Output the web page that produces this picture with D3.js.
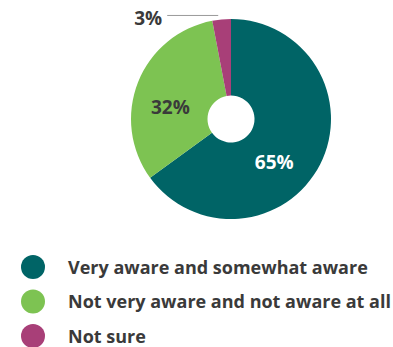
<!DOCTYPE html>
<html>
<head>
<meta charset="utf-8">
<script src="https://cdn.jsdelivr.net/npm/d3@7"></script>
<style>
  body { margin: 0; background: #fff; }
  text { font-family: "Open Sans", sans-serif; font-weight: 700; }
</style>
</head>
<body>
<script>
// data
const categories = ["Very aware and somewhat aware", "Not very aware and not aware at all", "Not sure"];
const values = [65, 32, 3];
const labels = ["65%", "32%", "3%"];
const colors = ["#006466", "#7dc352", "#a83f78"];

const width = 393;
const height = 347;
const cx = 231, cy = 119;
const outerR = 100, innerR = 23.5;

const svg = d3.select("body").append("svg")
    .attr("width", width)
    .attr("height", height);

const pie = d3.pie().sort(null).value(d => d);
const arcs = pie(values);

const arc = d3.arc().innerRadius(innerR).outerRadius(outerR);

const g = svg.append("g").attr("transform", `translate(${cx},${cy})`);

// slices
g.selectAll(".slice")
    .data(arcs)
    .enter()
    .append("path")
    .attr("class", "slice")
    .attr("d", arc)
    .attr("fill", (d, i) => colors[i]);

// inside labels (big slices)
const labelArc = d3.arc().innerRadius(62).outerRadius(62);
const nudge = [[-12, 15], [-3, 11.3]];

g.selectAll(".label")
    .data(arcs.slice(0, 2))
    .enter()
    .append("text")
    .attr("class", "label")
    .attr("x", (d, i) => labelArc.centroid(d)[0] + nudge[i][0])
    .attr("y", (d, i) => labelArc.centroid(d)[1] + nudge[i][1] + 6.8)
    .attr("text-anchor", "middle")
    .attr("font-size", 19)
    .attr("fill", (d, i) => i === 0 ? "#fff" : "#3a3a3a")
    .text((d, i) => labels[i]);

// outside label for small slice with leader line
const small = arcs[2];
const edge = d3.arc().innerRadius(outerR + 4).outerRadius(outerR + 4).centroid(small);
g.append("line")
    .attr("x1", edge[0] - 3)
    .attr("y1", edge[1])
    .attr("x2", edge[0] - 54)
    .attr("y2", edge[1])
    .attr("stroke", "#999")
    .attr("stroke-width", 1);
g.append("text")
    .attr("x", edge[0] - 59)
    .attr("y", edge[1] + 9.5)
    .attr("text-anchor", "end")
    .attr("font-size", 19)
    .attr("fill", "#3a3a3a")
    .text(labels[2]);

// legend
const legend = svg.selectAll(".legend")
    .data(categories)
    .enter()
    .append("g")
    .attr("class", "legend")
    .attr("transform", (d, i) => `translate(33,${267 + i * 34.5})`);

legend.append("circle")
    .attr("r", 12)
    .attr("fill", (d, i) => colors[i]);

legend.append("text")
    .attr("x", 35)
    .attr("y", 6.5)
    .attr("font-size", 18)
    .attr("fill", "#3a3a3a")
    .text(d => d);
</script>
</body>
</html>
